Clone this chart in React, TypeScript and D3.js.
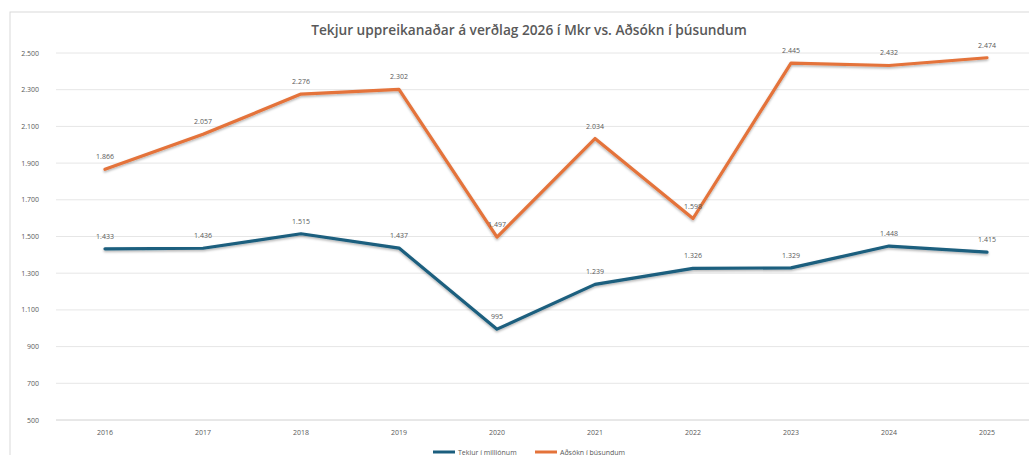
import React from "react";
import * as d3 from "d3";

const years = ["2016", "2017", "2018", "2019", "2020", "2021", "2022", "2023", "2024", "2025"];
const tekjur = [1433, 1436, 1515, 1437, 995, 1239, 1326, 1329, 1448, 1415];
const adsokn = [1866, 2057, 2276, 2302, 1497, 2034, 1598, 2445, 2432, 2474];
const yTicks = [500, 700, 900, 1100, 1300, 1500, 1700, 1900, 2100, 2300, 2500];
const seriesNames = ["Tekjur í milljónum", "Aðsókn í þúsundum"];
const title = "Tekjur uppreikanaðar á verðlag 2026 í Mkr vs. Aðsókn í þúsundum";

const W = 1029;
const H = 455;
const fmt = (v: number) => d3.format(",")(v).replace(/,/g, ".");

export default function App() {
  const x = d3.scalePoint<string>().domain(years).range([56, 1036]).padding(0.5);
  const y = d3.scaleLinear().domain([500, 2500]).range([420, 53]);
  const line = d3
    .line<number>()
    .x((_, i) => x(years[i]) as number)
    .y((d) => y(d));
  const series = [
    { name: seriesNames[0], values: tekjur, color: "#1B5E7E" },
    { name: seriesNames[1], values: adsokn, color: "#E4733A" },
  ];
  const font = "'Open Sans', 'Noto Sans', sans-serif";
  const gray = "#595959";
  return (
    <svg
      width={W}
      height={H}
      style={{ position: "absolute", left: 0, top: 0, background: "#fff" }}
      fontFamily={font}
    >
      <defs>
        <filter id="sh" x="-5%" y="-5%" width="110%" height="120%">
          <feDropShadow dx="0" dy="1.5" stdDeviation="1" floodColor="#000" floodOpacity="0.3" />
        </filter>
      </defs>
      <rect x={10} y={12} width={W} height={H} fill="#fff" stroke="#d9d9d9" strokeWidth={1} />
      <text x={529} y={35} textAnchor="middle" fontSize={13.7} fontWeight={600} fill={gray}>
        {title}
      </text>
      {yTicks.map((t) => (
        <g key={t}>
          <line x1={56} x2={W} y1={y(t)} y2={y(t)} stroke={t === 500 ? "#d0d0d0" : "#e6e6e6"} strokeWidth={1} />
          <text x={39} y={y(t) + 2.5} textAnchor="end" fontSize={7} fill={gray}>
            {fmt(t)}
          </text>
        </g>
      ))}
      {years.map((yr) => (
        <text key={yr} x={x(yr)} y={435} textAnchor="middle" fontSize={7} fill={gray}>
          {yr}
        </text>
      ))}
      {series.map((s) => (
        <path
          key={s.name}
          d={line(s.values) || ""}
          fill="none"
          stroke={s.color}
          strokeWidth={3.2}
          strokeLinejoin="round"
          strokeLinecap="round"
          filter="url(#sh)"
        />
      ))}
      {series.map((s) =>
        s.values.map((v, i) => (
          <text
            key={s.name + i}
            x={x(years[i])}
            y={y(v) - 10}
            textAnchor="middle"
            fontSize={7}
            fill={gray}
          >
            {fmt(v)}
          </text>
        ))
      )}
      {series.map((s, i) => {
        const lx = i === 0 ? 433 : 535;
        return (
          <g key={"lg" + s.name}>
            <line x1={lx} x2={lx + 22} y1={452} y2={452} stroke={s.color} strokeWidth={3} />
            <text x={lx + 25} y={454.5} fontSize={7} fill={gray}>
              {s.name}
            </text>
          </g>
        );
      })}
    </svg>
  );
}
